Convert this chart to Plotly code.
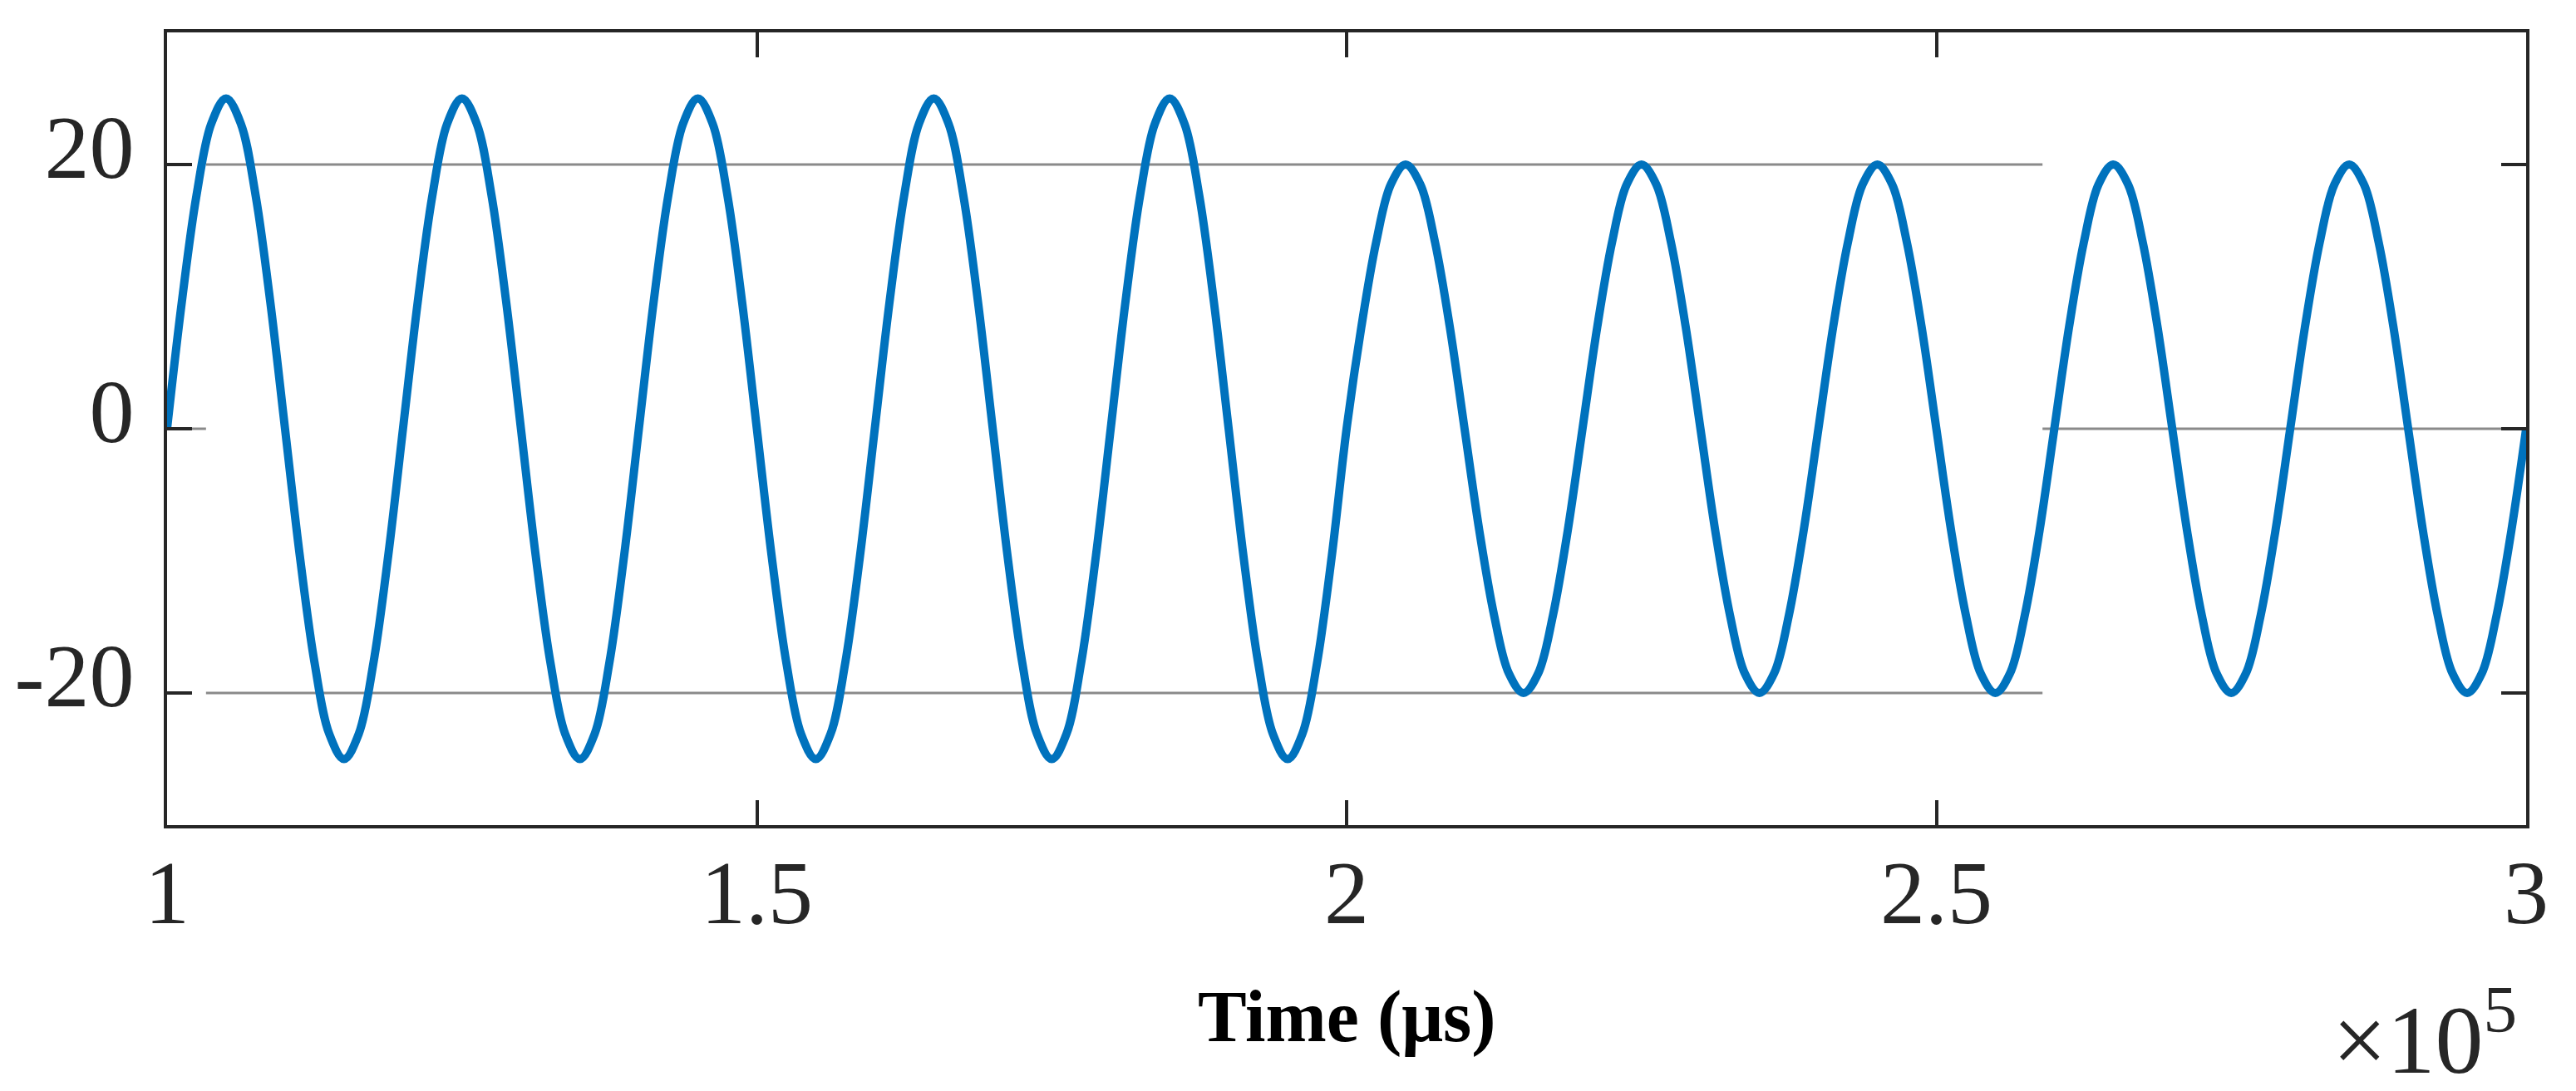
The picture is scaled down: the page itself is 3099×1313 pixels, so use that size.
import plotly.graph_objects as go

# ---- data (time in µs, signal amplitude) ----
time_us = [
    100000, 101250, 102500, 103750, 105000, 106250, 107500, 108750,
    110000, 111250, 112500, 113750, 115000, 116250, 117500, 118750,
    120000, 121250, 122500, 123750, 125000, 126250, 127500, 128750,
    130000, 131250, 132500, 133750, 135000, 136250, 137500, 138750,
    140000, 141250, 142500, 143750, 145000, 146250, 147500, 148750,
    150000, 151250, 152500, 153750, 155000, 156250, 157500, 158750,
    160000, 161250, 162500, 163750, 165000, 166250, 167500, 168750,
    170000, 171250, 172500, 173750, 175000, 176250, 177500, 178750,
    180000, 181250, 182500, 183750, 185000, 186250, 187500, 188750,
    190000, 191250, 192500, 193750, 195000, 196250, 197500, 198750,
    200000, 201250, 202500, 203750, 205000, 206250, 207500, 208750,
    210000, 211250, 212500, 213750, 215000, 216250, 217500, 218750,
    220000, 221250, 222500, 223750, 225000, 226250, 227500, 228750,
    230000, 231250, 232500, 233750, 235000, 236250, 237500, 238750,
    240000, 241250, 242500, 243750, 245000, 246250, 247500, 248750,
    250000, 251250, 252500, 253750, 255000, 256250, 257500, 258750,
    260000, 261250, 262500, 263750, 265000, 266250, 267500, 268750,
    270000, 271250, 272500, 273750, 275000, 276250, 277500, 278750,
    280000, 281250, 282500, 283750, 285000, 286250, 287500, 288750,
    290000, 291250, 292500, 293750, 295000, 296250, 297500, 298750,
    300000,
]
signal = [
    0, 9.6, 17.7, 23.1, 25, 23.1, 17.7, 9.6, 0, -9.6, -17.7, -23.1, -25, -23.1, -17.7, -9.6,
    0, 9.6, 17.7, 23.1, 25, 23.1, 17.7, 9.6, 0, -9.6, -17.7, -23.1, -25, -23.1, -17.7, -9.6,
    0, 9.6, 17.7, 23.1, 25, 23.1, 17.7, 9.6, 0, -9.6, -17.7, -23.1, -25, -23.1, -17.7, -9.6,
    0, 9.6, 17.7, 23.1, 25, 23.1, 17.7, 9.6, 0, -9.6, -17.7, -23.1, -25, -23.1, -17.7, -9.6,
    0, 9.6, 17.7, 23.1, 25, 23.1, 17.7, 9.6, 0, -9.6, -17.7, -23.1, -25, -23.1, -17.7, -9.6,
    0, 7.7, 14.1, 18.5, 20, 18.5, 14.1, 7.7, 0, -7.7, -14.1, -18.5, -20, -18.5, -14.1, -7.7,
    0, 7.7, 14.1, 18.5, 20, 18.5, 14.1, 7.7, 0, -7.7, -14.1, -18.5, -20, -18.5, -14.1, -7.7,
    0, 7.7, 14.1, 18.5, 20, 18.5, 14.1, 7.7, 0, -7.7, -14.1, -18.5, -20, -18.5, -14.1, -7.7,
    0, 7.7, 14.1, 18.5, 20, 18.5, 14.1, 7.7, 0, -7.7, -14.1, -18.5, -20, -18.5, -14.1, -7.7,
    0, 7.7, 14.1, 18.5, 20, 18.5, 14.1, 7.7, 0, -7.7, -14.1, -18.5, -20, -18.5, -14.1, -7.7,
    0,
]

x_tick_vals = [100000, 150000, 200000, 250000, 300000]
x_tick_text = ["1", "1.5", "2", "2.5", "3"]
y_tick_vals = [-20, 0, 20]
y_tick_text = ["-20", "0", "20"]

# partial grid-line segments visible in the reference: (y, x_start, x_end)
grid_y = [20, -20, 0, 0]
grid_x0 = [103300, 103300, 259000, 102100]
grid_x1 = [259000, 259000, 298000, 103300]

AX = "#262626"
FONT = "Liberation Serif, Times New Roman, serif"

fig = go.Figure()
fig.add_trace(go.Scatter(
    x=time_us, y=signal, mode="lines",
    line=dict(color="#0072BD", width=10, shape="spline", smoothing=1.0),
    showlegend=False,
))

for gy, gx0, gx1 in zip(grid_y, grid_x0, grid_x1):
    fig.add_shape(type="line", xref="x", yref="y", x0=gx0, x1=gx1, y0=gy, y1=gy,
                  line=dict(color="#8a8a8a", width=3), layer="below")

fig.update_xaxes(
    range=[100000, 300000], tickvals=x_tick_vals, ticktext=x_tick_text,
    showline=True, linecolor=AX, linewidth=4, mirror="ticks",
    ticks="inside", ticklen=30, tickwidth=3.5, tickcolor=AX,
    showgrid=False, zeroline=False, ticklabelstandoff=-16, automargin=False,
    tickfont=dict(family=FONT, size=108, color=AX),
)
fig.update_yaxes(
    range=[-30, 30], tickvals=y_tick_vals, ticktext=y_tick_text,
    showline=True, linecolor=AX, linewidth=4, mirror="ticks",
    ticks="inside", ticklen=30, tickwidth=3.5, tickcolor=AX,
    showgrid=False, zeroline=False, ticklabelstandoff=14, ticklabelshift=-22,
    automargin=False,
    tickfont=dict(family=FONT, size=108, color=AX),
)

fig.add_annotation(
    text="<b>Time (μs)</b>", xref="paper", yref="paper", x=0.5, y=-0.242,
    xanchor="center", yanchor="middle", showarrow=False,
    font=dict(family=FONT, size=88, color="#000000"),
)
fig.add_annotation(
    text="×10<sup>5</sup>", xref="paper", yref="paper", x=0.997, y=-0.341,
    xanchor="right", yanchor="bottom", showarrow=False,
    font=dict(family=FONT, size=116, color=AX),
)

fig.update_layout(
    width=3099, height=1313,
    margin=dict(l=193, r=68, t=31, b=328),
    paper_bgcolor="white", plot_bgcolor="white",
)

fig.write_html("out.html")
